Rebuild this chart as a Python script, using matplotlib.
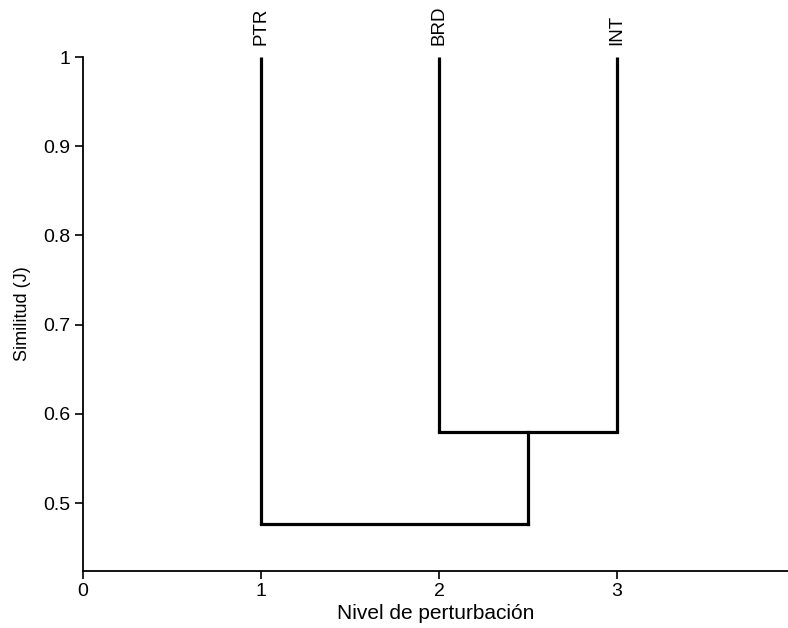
import matplotlib
matplotlib.use("Agg")
import matplotlib.pyplot as plt

# Data
leaf_labels = ["PTR", "BRD", "INT"]
leaf_positions = [1, 2, 3]
leaf_top = 1.0
# merges: (left x, right x, height)
merge_left = [2, 1]
merge_right = [3, 2.5]
merge_heights = [0.58, 0.476]
xticks = [0, 1, 2, 3]
yticks = [0.5, 0.6, 0.7, 0.8, 0.9, 1.0]
ytick_labels = ["0.5", "0.6", "0.7", "0.8", "0.9", "1"]

plt.rcParams['font.family'] = ['Liberation Sans', 'DejaVu Sans']

fig = plt.figure(figsize=(7.88, 6.28), dpi=100)
ax = fig.add_axes([83/788, 57/628, 1 - 83/788, 1 - 114/628])
ax.set_xlim(0, 3.96)
ax.set_ylim(0.4238, 1.0)

lw = 2.3
leaf_bottom = [merge_heights[1], merge_heights[0], merge_heights[0]]
for x, yb in zip(leaf_positions, leaf_bottom):
    ax.plot([x, x], [leaf_top, yb], color='black', lw=lw, solid_capstyle='butt', clip_on=False)
for xl, xr, h in zip(merge_left, merge_right, merge_heights):
    ax.plot([xl, xr], [h, h], color='black', lw=lw, solid_capstyle='projecting')
ax.plot([merge_right[1], merge_right[1]], [merge_heights[0], merge_heights[1]], color='black', lw=lw,
        solid_capstyle='projecting')

for x, lab in zip(leaf_positions, leaf_labels):
    ax.text(x, leaf_top + 0.013, lab, rotation=90, ha='center', va='bottom', fontsize=13.5)

ax.set_xticks(xticks)
ax.set_xticklabels([str(t) for t in xticks])
ax.set_yticks(yticks)
ax.set_yticklabels(ytick_labels)
ax.tick_params(direction='out', length=6, width=1.2, labelsize=14, pad=3)
for s in ['top', 'right']:
    ax.spines[s].set_visible(False)
for s in ['left', 'bottom']:
    ax.spines[s].set_linewidth(1.3)

ax.set_xlabel("Nivel de perturbación", fontsize=15)
ax.xaxis.set_label_coords(0.5, -0.065)
ax.set_ylabel("Similitud (J)", fontsize=13)
ax.yaxis.set_label_coords(-0.074, 0.5)

fig.savefig("out.png", dpi=100)
